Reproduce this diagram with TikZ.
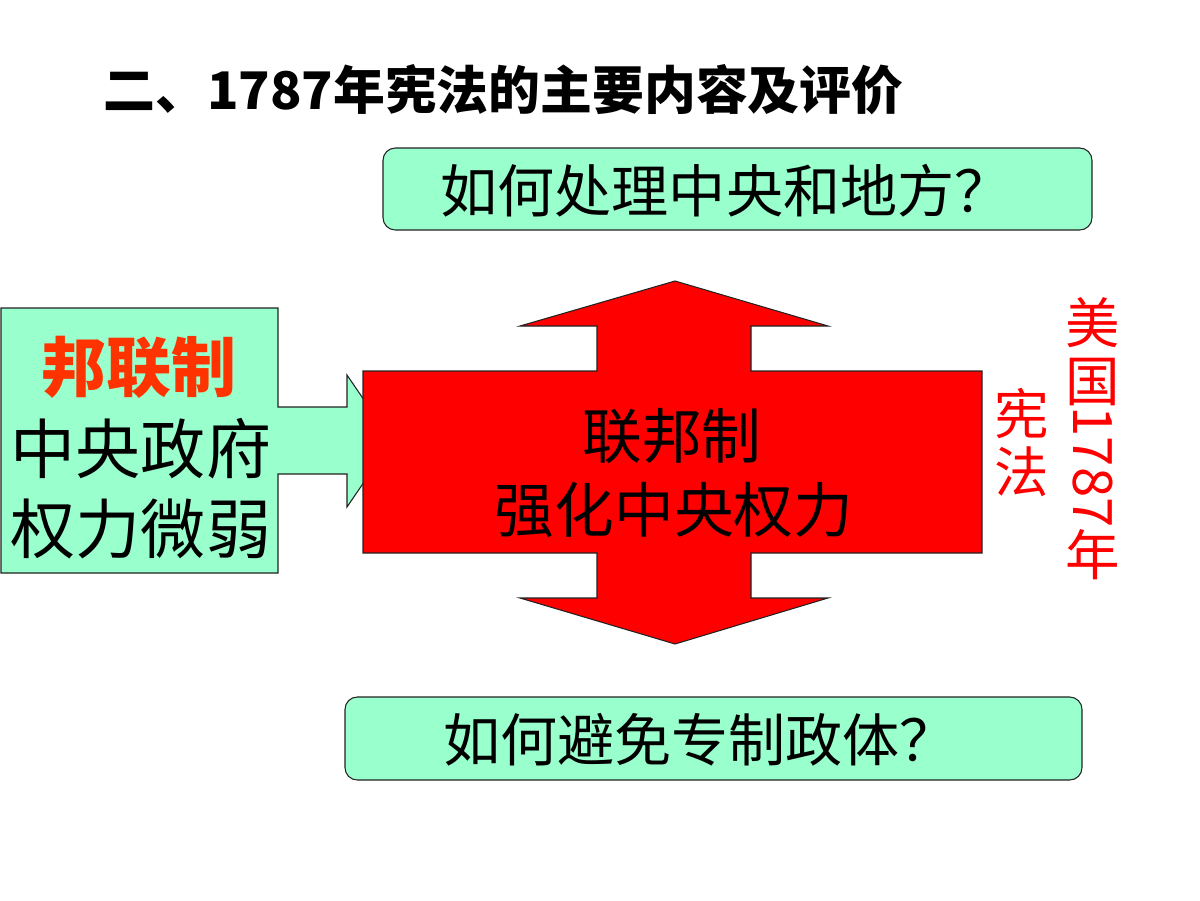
\documentclass[tikz,border=0pt]{standalone}
\usepackage{fontspec}
\newfontfamily\cjk{Noto Sans CJK SC}
\definecolor{boxgreen}{HTML}{99FFCC}
\definecolor{orangered}{HTML}{FF3300}
\definecolor{edge}{HTML}{222222}
\begin{document}
\begin{tikzpicture}[x=0.02cm,y=-0.02cm,
  qbox/.style={draw=edge,line width=0.6pt,fill=boxgreen,rounded corners=7pt},
  shapeline/.style={draw=edge,line width=0.6pt},
  txt/.style={inner sep=0pt,font=\cjk\fontsize{#1}{#1}\selectfont},
  txt/.default=32pt]
\useasboundingbox (0,0) rectangle (1200,900);
\fill[white] (0,0) rectangle (1200,900);
% title
\node[txt=29.5pt,anchor=west,font=\cjk\bfseries\fontsize{29.5pt}{29.5pt}\selectfont] (title) at (103,90) {二、1787年宪法的主要内容及评价};
% question boxes
\draw[qbox] (383,148) rectangle (1092,230);
\node[txt=32.5pt] (q1) at (726,191) {如何处理中央和地方？};
\draw[qbox] (345,697) rectangle (1082,780);
\node[txt=32.5pt] (q2) at (700,740) {如何避免专制政体？};
% left callout
\path[shapeline,fill=boxgreen] (1,308) -- (278,308) -- (278,407) -- (347,407) -- (347,375) -- (392,441) -- (347,507) -- (347,474) -- (278,474) -- (278,573) -- (1,573) -- cycle;
\node[txt=37pt,text=orangered,font=\cjk\bfseries\fontsize{37pt}{37pt}\selectfont] (l1) at (139,367) {邦联制};
\node[txt=37pt] (l2) at (141,449) {中央政府};
\node[txt=37pt] (l3) at (141,529) {权力微弱};
% red cross arrow
\path[shapeline,fill=red] (363,371) -- (597,371) -- (597,326) -- (520,326) -- (675,281) -- (828,326) -- (751,326) -- (751,371) -- (982,371) -- (982,553) -- (751,553) -- (751,598) -- (828,598) -- (675,644) -- (520,598) -- (597,598) -- (597,553) -- (363,553) -- cycle;
\node[txt=34pt] (c1) at (672,436) {联邦制};
\node[txt=34pt] (c2) at (674,510) {强化中央权力};
% vertical texts
\node[txt=31pt,text=red] (v1) at (1093,323) {美};
\node[txt=31pt,text=red] (v2) at (1093,382) {国};
\node[txt=31pt,text=red,rotate=-90] (v3) at (1093,467) {1787};
\node[txt=31pt,text=red] (v4) at (1093,555) {年};
\node[txt=31pt,text=red] (w1) at (1022,413) {宪};
\node[txt=31pt,text=red] (w2) at (1022,472) {法};
\end{tikzpicture}
\end{document}
